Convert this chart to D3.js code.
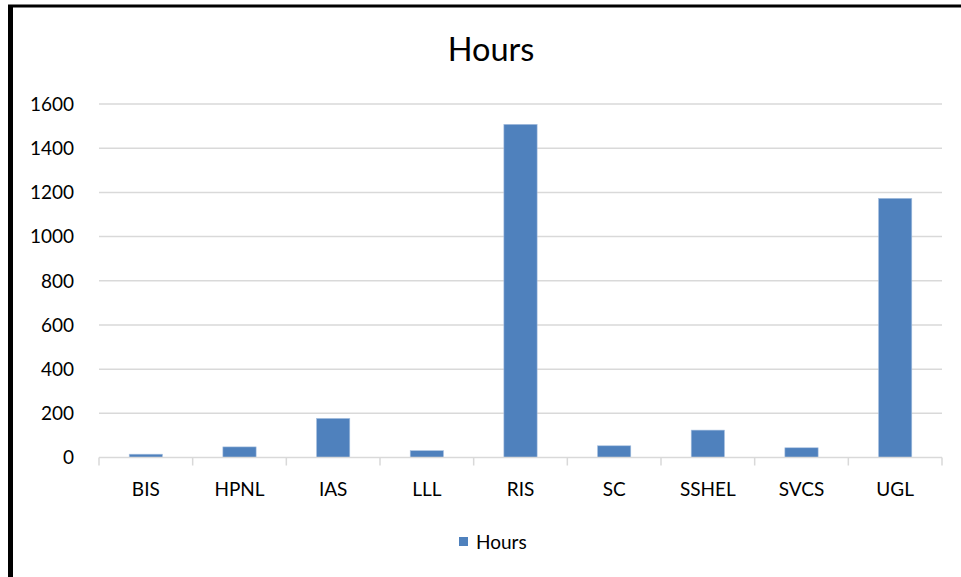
<!DOCTYPE html>
<html>
<head>
<meta charset="utf-8">
<script src="https://cdn.jsdelivr.net/npm/d3@7/dist/d3.min.js"></script>
<style>
  html, body { margin: 0; padding: 0; background: #fff; }
  svg { display: block; font-family: Lato, "Open Sans", sans-serif; }
</style>
</head>
<body>
<svg id="chart" width="961" height="577"></svg>
<script>
// Hours per unit
const categories = ["BIS", "HPNL", "IAS", "LLL", "RIS", "SC", "SSHEL", "SVCS", "UGL"];
const hours = [15, 48, 177, 31, 1508, 53, 124, 44, 1173];
const yTicks = [0, 200, 400, 600, 800, 1000, 1200, 1400, 1600];
const seriesName = "Hours";

const svg = d3.select("#chart");
const W = 961, H = 577;
const plot = { left: 99, right: 942, top: 104, bottom: 457.5 };

// frame lines along the top and left edges
svg.append("line").attr("x1", 8).attr("x2", W).attr("y1", 6).attr("y2", 6)
  .attr("stroke", "#000").attr("stroke-width", 3);
svg.append("line").attr("x1", 10.5).attr("x2", 10.5).attr("y1", 5).attr("y2", H)
  .attr("stroke", "#000").attr("stroke-width", 5);

const x = d3.scaleBand().domain(categories).range([plot.left, plot.right])
  .paddingInner(0.645).paddingOuter(0.3225);
const xOuter = d3.scaleBand().domain(categories).range([plot.left, plot.right]);
const y = d3.scaleLinear().domain([0, 1600]).range([plot.bottom, plot.top]);

// horizontal gridlines
svg.append("g").selectAll("line").data(yTicks.filter(d => d > 0)).join("line")
  .attr("x1", plot.left).attr("x2", plot.right)
  .attr("y1", d => y(d)).attr("y2", d => y(d))
  .attr("stroke", "#d9d9d9").attr("stroke-width", 1.5);

// y axis labels
svg.append("g").selectAll("text").data(yTicks).join("text")
  .attr("x", 74).attr("y", d => y(d)).attr("dy", "0.36em")
  .attr("text-anchor", "end").attr("font-size", 19).attr("fill", "#000")
  .text(d => d);

// bars
svg.append("g").selectAll("rect").data(categories).join("rect")
  .attr("x", d => x(d)).attr("width", x.bandwidth())
  .attr("y", (d, i) => y(hours[i])).attr("height", (d, i) => y(0) - y(hours[i]))
  .attr("fill", "#4f81bd").attr("stroke", "#a9c1e0").attr("stroke-width", 0.6);

// x axis baseline and ticks
const xAxis = svg.append("g");
xAxis.append("line").attr("x1", plot.left).attr("x2", plot.right)
  .attr("y1", y(0)).attr("y2", y(0)).attr("stroke", "#d9d9d9").attr("stroke-width", 1.5);
const tickPos = categories.map(c => xOuter(c)).concat([plot.right]);
xAxis.selectAll("line.tick").data(tickPos).join("line").attr("class", "tick")
  .attr("x1", d => d).attr("x2", d => d).attr("y1", y(0)).attr("y2", y(0) + 8)
  .attr("stroke", "#d9d9d9").attr("stroke-width", 1.5);
xAxis.selectAll("text").data(categories).join("text")
  .attr("x", d => xOuter(d) + xOuter.bandwidth() / 2).attr("y", 496)
  .attr("text-anchor", "middle").attr("font-size", 19).attr("fill", "#000")
  .text(d => d);

// title
svg.append("text").attr("x", 491).attr("y", 61).attr("text-anchor", "middle")
  .attr("font-size", 32.5).attr("fill", "#000").text(seriesName);

// legend
const lg = svg.append("g");
lg.append("rect").attr("x", 459).attr("y", 537).attr("width", 9).attr("height", 9).attr("fill", "#4f81bd");
lg.append("text").attr("x", 476).attr("y", 549).attr("font-size", 19).attr("fill", "#000").text(seriesName);
</script>
</body>
</html>
